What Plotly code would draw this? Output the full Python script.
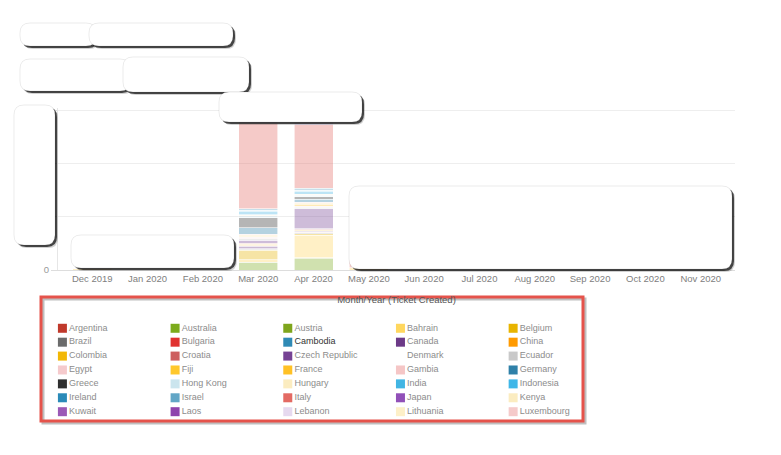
import plotly.graph_objects as go

# ticket counts per country, months of ticket creation
months = ['Dec 2019', 'Jan 2020', 'Feb 2020', 'Mar 2020', 'Apr 2020', 'May 2020',
          'Jun 2020', 'Jul 2020', 'Aug 2020', 'Sep 2020', 'Oct 2020', 'Nov 2020']

countries = ['Argentina', 'Australia', 'Austria', 'Bahrain', 'Belgium',
             'Brazil', 'Bulgaria', 'Cambodia', 'Canada', 'China',
             'Colombia', 'Croatia', 'Czech Republic', 'Denmark', 'Ecuador',
             'Egypt', 'Fiji', 'France', 'Gambia', 'Germany',
             'Greece', 'Hong Kong', 'Hungary', 'India', 'Indonesia',
             'Ireland', 'Israel', 'Italy', 'Japan', 'Kenya',
             'Kuwait', 'Laos', 'Lebanon', 'Lithuania', 'Luxembourg']

colors = ['#c0392b', '#7cab1c', '#7ea51c', '#ffd75e', '#e8b400',
          '#6b6b6b', '#e0312f', '#2f8ab5', '#6c3a87', '#ff9a00',
          '#f2b705', '#cd5f5f', '#764294', '#ffffff', '#c9c9c9',
          '#f5cacc', '#ffc82c', '#ffc125', '#f5c6c6', '#2f80a8',
          '#2f2f2f', '#cbe5ee', '#fbecc0', '#42b5e3', '#3fb7e8',
          '#2a8ab8', '#62a6c6', '#e36a63', '#9150b8', '#fbecc0',
          '#9b59b6', '#8e44ad', '#e6d9ef', '#fdf0c8', '#f5caca']

# one value per country (same order as countries)
dec_2019 = [0, 0, 0, 3, 0, 0, 0, 0, 0, 0, 0, 0, 0, 0, 0, 0, 0, 0,
            0, 0, 0, 0, 0, 0, 0, 0, 0, 0, 0, 0, 0, 0, 0, 0, 0]
mar_2020 = [0, 15, 0, 4, 18, 2, 1, 0, 5, 1, 2, 2, 6, 0, 3, 2, 2, 2,
            2, 12, 19, 4, 2, 5, 2, 1, 3, 160, 2, 1, 2, 3, 2, 1, 2]
apr_2020 = [0, 21, 2, 42, 3, 2, 1, 0, 2, 1, 2, 1, 38, 0, 3, 2, 2, 3,
            2, 6, 4, 3, 2, 5, 2, 1, 3, 120, 2, 1, 1, 3, 2, 1, 2]
may_2020 = [0, 0, 0, 4, 0, 0, 0, 0, 0, 0, 0, 0, 0, 0, 0, 0, 0, 0,
            0, 0, 0, 0, 0, 0, 0, 0, 0, 55, 0, 0, 0, 0, 0, 0, 0]

month_values = {'Dec 2019': dec_2019, 'Mar 2020': mar_2020,
                'Apr 2020': apr_2020, 'May 2020': may_2020}
no_tickets = [0] * len(countries)

highlighted = 'Cambodia'

W, H = 781, 455
# page body has an 8px margin, so shift everything back by that much
OFF = 8
FONT = 'Arial, Liberation Sans, sans-serif'


def px(x):
    return (x - OFF) / W


def py(y):
    return 1 - (y - OFF) / H


def rounded_box(x0, y0, x1, y1, r):
    pts = [('M', x0 + r, y0), ('L', x1 - r, y0), ('Q', x1, y0, x1, y0 + r),
           ('L', x1, y1 - r), ('Q', x1, y1, x1 - r, y1), ('L', x0 + r, y1),
           ('Q', x0, y1, x0, y1 - r), ('L', x0, y0 + r), ('Q', x0, y0, x0 + r, y0)]
    path = ''
    for p in pts:
        coords = p[1:]
        s = ' '.join('%.5f,%.5f' % (px(coords[k]), py(coords[k + 1])) for k in range(0, len(coords), 2))
        path += '%s %s ' % (p[0], s)
    return path + 'Z'


fig = go.Figure()

for i, name in enumerate(countries):
    fig.add_trace(go.Bar(
        x=months,
        y=[month_values.get(m, no_tickets)[i] for m in months],
        name=name,
        marker=dict(color=colors[i], line=dict(color='white', width=0.6)),
        opacity=0.35,
        showlegend=False))

# legend grid (5 columns, row-major) drawn on an overlay axis
ncols = 5
text_colors = ['#333333' if c == highlighted else '#8c8c8c' for c in countries]
fig.add_trace(go.Scatter(
    x=[i % ncols for i in range(len(countries))],
    y=[i // ncols for i in range(len(countries))],
    xaxis='x2', yaxis='y2',
    mode='markers+text',
    text=countries,
    textposition='middle right',
    textfont=dict(size=9, color=text_colors, family=FONT),
    marker=dict(symbol='square', size=9, color=colors),
    hoverinfo='skip', showlegend=False, cliponaxis=False))

shapes = []
# legend frame
shapes.append(dict(type='rect', xref='paper', yref='paper',
                   x0=px(43), x1=px(585), y0=py(423), y1=py(299),
                   line=dict(color='rgba(0,0,0,0.25)', width=3), layer='above'))
shapes.append(dict(type='rect', xref='x2 domain', yref='y2 domain',
                   x0=0, x1=1, y0=0, y1=1,
                   line=dict(color='#e5534b', width=3), layer='above'))

# white redaction boxes
boxes = [(20, 23, 96, 46), (89, 23, 233, 46), (20, 59, 130, 91), (123, 57, 249, 92),
         (219, 92, 362, 122), (14, 105, 55, 245), (71, 235, 234, 268), (349, 186, 732, 269)]
for b in boxes:
    x0, y0, x1, y1 = b
    shapes.append(dict(type='path', xref='paper', yref='paper',
                       path=rounded_box(x0 + 3, y0 + 3, x1 + 3, y1 + 3, 10),
                       fillcolor='rgba(0,0,0,0.18)', line=dict(width=0), layer='above'))
    shapes.append(dict(type='path', xref='paper', yref='paper',
                       path=rounded_box(x0 + 2, y0 + 2, x1 + 2, y1 + 2, 10),
                       fillcolor='rgba(20,20,20,0.75)', line=dict(width=0), layer='above'))
    shapes.append(dict(type='path', xref='paper', yref='paper',
                       path=rounded_box(x0, y0, x1, y1, 10),
                       fillcolor='white', line=dict(color='rgba(0,0,0,0.08)', width=1), layer='above'))

fig.update_layout(
    width=W, height=H,
    margin=dict(l=0, r=0, t=0, b=0),
    paper_bgcolor='white', plot_bgcolor='white',
    font=dict(family=FONT),
    barmode='stack', bargap=0.295,
    xaxis=dict(domain=[px(58), px(735)], type='category', range=[-0.62, 11.62],
               automargin=False,
               showgrid=False, showline=True, linecolor='#dddddd', ticks='',
               tickfont=dict(size=9.5, color='#808080'),
               title=dict(text='Month/Year (Ticket Created)', standoff=12,
                          font=dict(size=9.5, color='#555555'))),
    yaxis=dict(domain=[py(270), py(108)], range=[0, 304], dtick=100,
               automargin=False,
               gridcolor='#eeeeee', showline=True, linecolor='#e6e6e6',
               ticks='outside', ticklen=6, tickcolor='#dddddd', zeroline=False,
               tickfont=dict(size=9.5, color='#999999')),
    xaxis2=dict(domain=[px(41), px(583)], range=[-0.19, 4.62], anchor='y2',
                visible=False, automargin=False),
    yaxis2=dict(domain=[py(421), py(297)], range=[6.67, -2.25], anchor='x2',
                visible=False, automargin=False),
    shapes=shapes)

fig.write_html('out.html')
